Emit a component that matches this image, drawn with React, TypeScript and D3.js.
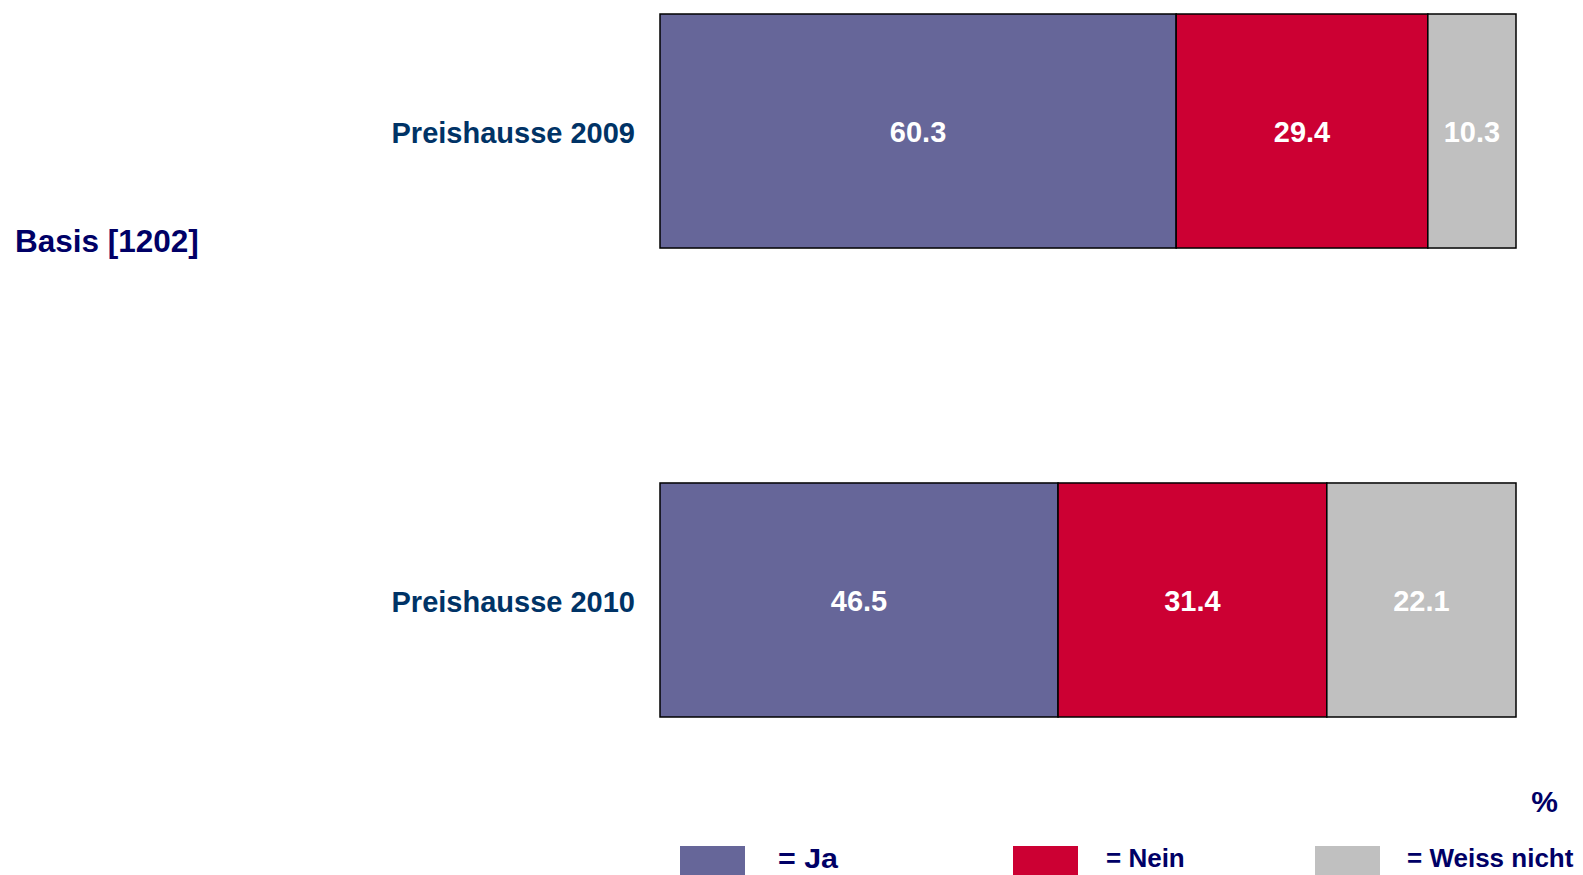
import React, { useEffect, useRef } from 'react';
import * as d3 from 'd3';

const categories = ['Preishausse 2009', 'Preishausse 2010'];
const seriesNames = ['= Ja', '= Nein', '= Weiss nicht'];
const jaValues = [60.3, 46.5];
const neinValues = [29.4, 31.4];
const weissNichtValues = [10.3, 22.1];
const baseLabel = 'Basis [1202]';
const unitLabel = '%';

const App: React.FC = () => {
  const svgRef = useRef<SVGSVGElement>(null);

  useEffect(() => {
    if (!svgRef.current) return;

    d3.select(svgRef.current).selectAll('*').remove();

    const width = 1583;
    const height = 875;
    const font = 'Arial, "Liberation Sans", sans-serif';

    const svg = d3.select(svgRef.current)
      .attr('width', width)
      .attr('height', height)
      .attr('viewBox', `0 0 ${width} ${height}`)
      .style('font-family', font);

    const x = d3.scaleLinear().domain([0, 100]).range([660, 1516]);
    const y = d3.scaleBand().domain(categories).range([14, 717]).paddingInner(0.501).paddingOuter(0);

    const color = d3.scaleOrdinal<string, string>()
      .domain(seriesNames)
      .range(['#666699', '#CC0033', '#C0C0C0']);

    // build stacked table from the series arrays
    const rows = categories.map((c, i) => ({
      category: c,
      '= Ja': jaValues[i],
      '= Nein': neinValues[i],
      '= Weiss nicht': weissNichtValues[i],
    }));
    const stacked = d3.stack<any>().keys(seriesNames)(rows);

    const layers = svg.append('g')
      .selectAll('g')
      .data(stacked)
      .enter()
      .append('g')
      .attr('fill', d => color(d.key));

    layers.selectAll('rect')
      .data(d => d)
      .enter()
      .append('rect')
      .attr('x', d => x(d[0]))
      .attr('y', d => y(d.data.category)!)
      .attr('width', d => x(d[1]) - x(d[0]))
      .attr('height', y.bandwidth())
      .attr('stroke', '#000')
      .attr('stroke-width', 1.5);

    // value labels
    layers.selectAll('text')
      .data(d => d)
      .enter()
      .append('text')
      .attr('x', d => (x(d[0]) + x(d[1])) / 2)
      .attr('y', d => y(d.data.category)! + y.bandwidth() / 2 + 11)
      .attr('text-anchor', 'middle')
      .attr('fill', '#fff')
      .attr('font-size', 29)
      .attr('font-weight', 'bold')
      .text(d => (d[1] - d[0]).toFixed(1));

    // category labels
    svg.append('g')
      .selectAll('text')
      .data(categories)
      .enter()
      .append('text')
      .attr('x', 635)
      .attr('y', d => y(d)! + y.bandwidth() / 2 + 12)
      .attr('text-anchor', 'end')
      .attr('fill', '#003366')
      .attr('font-size', 29)
      .attr('font-weight', 'bold')
      .text(d => d);

    svg.append('text')
      .attr('x', 15)
      .attr('y', 252)
      .attr('fill', '#000066')
      .attr('font-size', 31.5)
      .attr('font-weight', 'bold')
      .text(baseLabel);

    svg.append('text')
      .attr('x', 1558)
      .attr('y', 812)
      .attr('text-anchor', 'end')
      .attr('fill', '#000066')
      .attr('font-size', 30)
      .attr('font-weight', 'bold')
      .text(unitLabel);

    // legend
    const legendX = [680, 1013, 1315];
    const legendTextX = [778, 1106, 1407];
    const legendFont = [27, 26, 26];
    const legendBase = [868, 867, 867];

    const legend = svg.append('g')
      .selectAll('g')
      .data(seriesNames)
      .enter()
      .append('g');

    legend.append('rect')
      .attr('x', (_, i) => legendX[i])
      .attr('y', 846)
      .attr('width', 65)
      .attr('height', 32)
      .attr('fill', d => color(d));

    legend.append('text')
      .attr('x', (_, i) => legendTextX[i])
      .attr('y', (_, i) => legendBase[i])
      .attr('fill', '#000066')
      .attr('font-size', (_, i) => legendFont[i])
      .attr('font-weight', 'bold')
      .text(d => d)
      .filter(d => d === '= Ja')
      .attr('textLength', 60)
      .attr('lengthAdjust', 'spacingAndGlyphs');
  }, []);

  return (
    <svg
      ref={svgRef}
      style={{ position: 'absolute', top: 0, left: 0, background: '#fff' }}
    ></svg>
  );
};

export default App;
